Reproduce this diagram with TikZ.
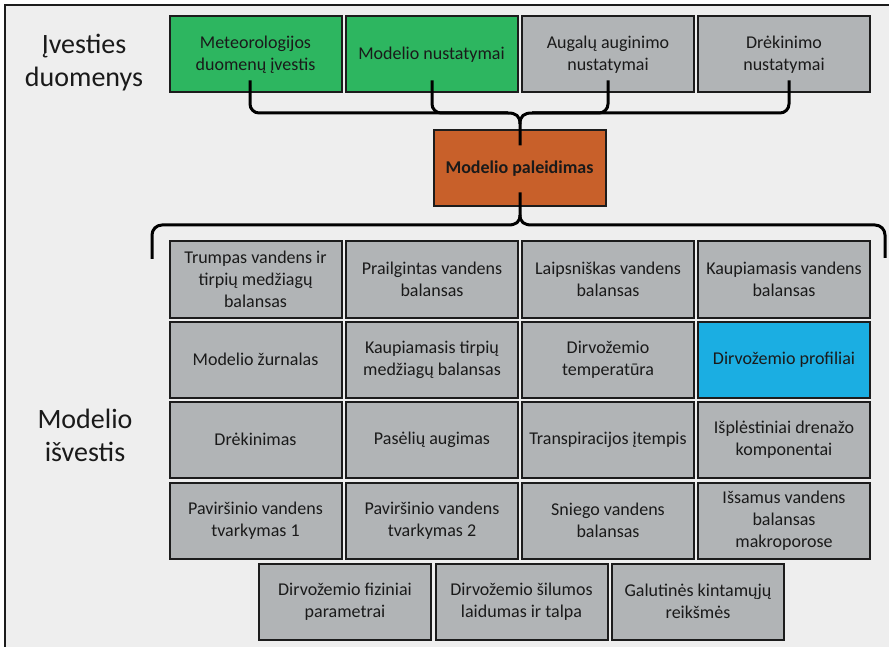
\documentclass[tikz,border=0pt]{standalone}
\usepackage{fontspec}
\setmainfont{Carlito}
\usetikzlibrary{calc}
\definecolor{bgcol}{HTML}{EEEEEE}
\definecolor{boxline}{HTML}{1C1C1C}
\definecolor{greenbox}{HTML}{2DB660}
\definecolor{greybox}{HTML}{B1B4B6}
\definecolor{orangebox}{HTML}{C8602A}
\definecolor{bluebox}{HTML}{1BAEE2}
\definecolor{txt}{HTML}{1A1A1A}
\begin{document}
\begin{tikzpicture}[x=1pt,y=-1pt,
  box/.style={draw=boxline, line width=2pt, minimum width=172pt, minimum height=76pt,
    align=center, text=txt, font=\fontsize{18}{22}\selectfont, inner sep=2pt},
  greenb/.style={box, fill=greenbox},
  greyb/.style={box, fill=greybox},
  blueb/.style={box, fill=bluebox},
  orangeb/.style={box, fill=orangebox, font=\fontsize{18}{22}\selectfont\bfseries},
  biglabel/.style={align=center, text=txt, font=\fontsize{28}{33}\selectfont},
  brace/.style={draw=black, line width=3pt}
]
\useasboundingbox (0,0) rectangle (889,647);
\fill[bgcol] (5,5) rectangle (889,647);
\draw[line width=2pt, boxline] (5,647) -- (5,5) -- (889,5);

% labels
\node[biglabel] (inlab) at (84,63) {Įvesties\\duomenys};
\node[biglabel] (outlab) at (85,435) {Modelio\\išvestis};

% input row
\node[greenb] (met) at (255.5,54.5) {Meteorologijos\\duomenų įvestis};
\node[greenb] (mset) at (431.5,54.5) {Modelio nustatymai};
\node[greyb] (crop) at (608,54.5) {Augalų auginimo\\nustatymai};
\node[greyb] (irr) at (784,54.5) {Drėkinimo\\nustatymai};

% run
\node[orangeb] (run) at (519.5,168.5) {Modelio paleidimas};

% output grid
\node[greyb] (o11) at (255.5,279.5) {Trumpas vandens ir\\tirpių medžiagų\\balansas};
\node[greyb] (o12) at (432,279.5) {Prailgintas vandens\\balansas};
\node[greyb] (o13) at (608,279.5) {Laipsniškas vandens\\balansas};
\node[greyb] (o14) at (784,279.5) {Kaupiamasis vandens\\balansas};

\node[greyb] (o21) at (255.5,359.5) {Modelio žurnalas};
\node[greyb] (o22) at (432,359.5) {Kaupiamasis tirpių\\medžiagų balansas};
\node[greyb] (o23) at (608,359.5) {Dirvožemio\\temperatūra};
\node[blueb] (o24) at (784,359.5) {Dirvožemio profiliai};

\node[greyb] (o31) at (255.5,439.5) {Drėkinimas};
\node[greyb] (o32) at (432,439.5) {Pasėlių augimas};
\node[greyb] (o33) at (608,439.5) {Transpiracijos įtempis};
\node[greyb] (o34) at (784,439.5) {Išplėstiniai drenažo\\komponentai};

\node[greyb] (o41) at (255.5,520.5) {Paviršinio vandens\\tvarkymas 1};
\node[greyb] (o42) at (432,520.5) {Paviršinio vandens\\tvarkymas 2};
\node[greyb] (o43) at (608,520.5) {Sniego vandens\\balansas};
\node[greyb] (o44) at (784,520.5) {Išsamus vandens\\balansas\\makroporose};

\node[greyb] (o51) at (345,601.5) {Dirvožemio fiziniai\\parametrai};
\node[greyb] (o52) at (521.5,601.5) {Dirvožemio šilumos\\laidumas ir talpa};
\node[greyb] (o53) at (698,601.5) {Galutinės kintamųjų\\reikšmės};

% top brace
\coordinate (l1) at ($(met.south)+(-5.5,-13)$);
\coordinate (l2) at ($(mset.south)+(0.5,-13)$);
\coordinate (l3) at ($(crop.south)+(0,-13)$);
\coordinate (l4) at ($(irr.south)+(5,-13)$);
\coordinate (tipin) at ($(run.north)+(0.5,16)$);
\draw[brace, rounded corners=9pt] (l1) |- (508,113);
\draw[brace, rounded corners=9pt] (l2) |- (508,113);
\draw[brace, rounded corners=9pt] (l3) |- (532,113);
\draw[brace, rounded corners=9pt] (l4) |- (532,113);
\draw[brace] (508,113) .. controls (516,113) and (520,116) .. (520,124) -- (tipin);
\draw[brace] (532,113) .. controls (524,113) and (520,116) .. (520,124);

% bottom brace
\coordinate (tipout) at ($(run.south)+(0.5,-15)$);
\coordinate (bl) at (152,259);
\coordinate (br) at (885,258);
\draw[brace] (tipout) -- (520,215) .. controls (520,222) and (516,225) .. (508,225)
  [rounded corners=10pt] -- (152,225) -- (bl);
\draw[brace] (520,215) .. controls (520,222) and (524,225) .. (532,225)
  [rounded corners=10pt] -- (885,225) -- (br);
\end{tikzpicture}
\end{document}
